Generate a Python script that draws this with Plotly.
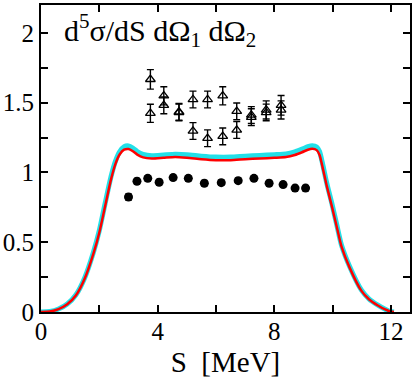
import plotly.graph_objects as go

# Theory curves
s_red = [0.0, 0.3, 0.6, 0.9, 1.2, 1.5, 1.8, 2.0, 2.2, 2.4, 2.55, 2.7, 2.85, 3.0, 3.15, 3.3, 3.5,
         3.8, 4.2, 4.6, 5.0, 5.5, 6.0, 6.5, 7.0, 7.5, 8.0, 8.4, 8.7, 8.95, 9.15, 9.3, 9.45, 9.55,
         9.65, 9.8, 9.98, 10.15, 10.3, 10.58, 10.98, 11.25, 11.55, 11.8, 11.95, 12.1]
v_red = [0.0, 0.003, 0.02, 0.055, 0.12, 0.24, 0.42, 0.57, 0.76, 0.95, 1.06, 1.13, 1.163, 1.168,
         1.152, 1.128, 1.108, 1.10, 1.105, 1.11, 1.105, 1.095, 1.088, 1.088, 1.095, 1.10, 1.105,
         1.11, 1.125, 1.145, 1.163, 1.17, 1.16, 1.125, 1.04, 0.90, 0.75, 0.60, 0.47, 0.318, 0.153,
         0.09, 0.047, 0.018, 0.005, 0.0]
s_cyan = s_red
v_cyan = [0.0, 0.003, 0.021, 0.057, 0.124, 0.246, 0.43, 0.585, 0.78, 0.97, 1.08, 1.15, 1.185,
          1.19, 1.175, 1.15, 1.13, 1.12, 1.125, 1.13, 1.127, 1.117, 1.11, 1.11, 1.117, 1.122,
          1.127, 1.132, 1.147, 1.167, 1.185, 1.192, 1.183, 1.15, 1.065, 0.92, 0.77, 0.615, 0.48,
          0.326, 0.158, 0.093, 0.049, 0.019, 0.005, 0.0]

# Data: filled circles
s_circ = [3.0, 3.29, 3.66, 4.05, 4.53, 5.05, 5.6, 6.18, 6.76, 7.3, 7.82, 8.3, 8.71, 9.07]
v_circ = [0.824, 0.937, 0.958, 0.93, 0.963, 0.958, 0.923, 0.927, 0.941, 0.958, 0.923, 0.913, 0.888, 0.888]
e_circ = [0.025, 0.02, 0.02, 0.02, 0.02, 0.02, 0.02, 0.02, 0.02, 0.02, 0.02, 0.02, 0.02, 0.02]

# Data: triangles (two sets)
s_tri = [3.75, 4.21, 4.73, 5.21, 5.71, 6.23, 6.71, 7.21, 7.72, 8.23]
v_tri_a = [1.667, 1.549, 1.434, 1.523, 1.523, 1.549, 1.438, 1.412, 1.448, 1.481]
e_tri_a = [0.07, 0.065, 0.06, 0.06, 0.06, 0.065, 0.06, 0.06, 0.065, 0.07]
v_tri_b = [1.424, 1.481, 1.43, 1.297, 1.245, 1.259, 1.304, 1.396, 1.43, 1.448]
e_tri_b = [0.065, 0.06, 0.06, 0.06, 0.06, 0.06, 0.06, 0.06, 0.06, 0.065]

x_ticks = [0, 4, 8, 12]
y_ticks = [0, 0.5, 1, 1.5, 2]
y_labels = ["0", "0.5", "1", "1.5", "2"]

FONT = "Liberation Serif, Times New Roman, serif"

fig = go.Figure()
fig.add_trace(go.Scatter(x=s_cyan, y=v_cyan, mode="lines",
                         line=dict(color="#22e0e8", width=5, shape="spline", smoothing=0.6)))
fig.add_trace(go.Scatter(x=s_red, y=v_red, mode="lines",
                         line=dict(color="#ff0000", width=2.5, shape="spline", smoothing=0.6)))
fig.add_trace(go.Scatter(x=s_circ, y=v_circ, mode="markers",
                         marker=dict(symbol="circle", size=9, color="black"),
                         error_y=dict(type="data", array=e_circ, color="black", thickness=1.2, width=3)))
for v, e in ((v_tri_a, e_tri_a), (v_tri_b, e_tri_b)):
    fig.add_trace(go.Scatter(x=s_tri, y=v, mode="markers",
                             marker=dict(symbol="triangle-up-open", size=8.5, color="black",
                                         line=dict(width=1.3, color="black")),
                             error_y=dict(type="data", array=e, color="black", thickness=1.4, width=3.5)))

fig.add_annotation(x=0.72, y=2.015, xref="x", yref="y", xanchor="left", yanchor="middle",
                   text="d<sup>5</sup>σ/dS dΩ<sub>1</sub> dΩ<sub>2</sub>", showarrow=False,
                   font=dict(family=FONT, size=30, color="black"))

axis_common = dict(showgrid=False, zeroline=False, showline=True, linecolor="black", linewidth=2,
                   mirror="allticks", ticks="inside", ticklen=7, tickwidth=1.5, tickcolor="black",
                   tickfont=dict(family=FONT, size=25, color="black"))
fig.update_xaxes(range=[0, 12.65], tickvals=x_ticks, ticktext=[str(t) for t in x_ticks],
                 ticklabelstandoff=-4,
                 minor=dict(dtick=2, tick0=0, ticks="inside", ticklen=7, tickwidth=1.5, tickcolor="black"),
                 title=dict(text="S  [MeV]", font=dict(family=FONT, size=29, color="black"), standoff=10),
                 **axis_common)
fig.update_yaxes(range=[0, 2.2], tickvals=y_ticks, ticktext=y_labels,
                 minor=dict(dtick=0.25, tick0=0, ticks="inside", ticklen=7, tickwidth=1.5, tickcolor="black"),
                 **axis_common)
fig.update_layout(width=415, height=378, margin=dict(l=41, r=3, t=4, b=63),
                  plot_bgcolor="white", paper_bgcolor="white", showlegend=False)
fig.write_html("out.html", config={"displayModeBar": False},
               post_script="document.body.style.margin='0';")
